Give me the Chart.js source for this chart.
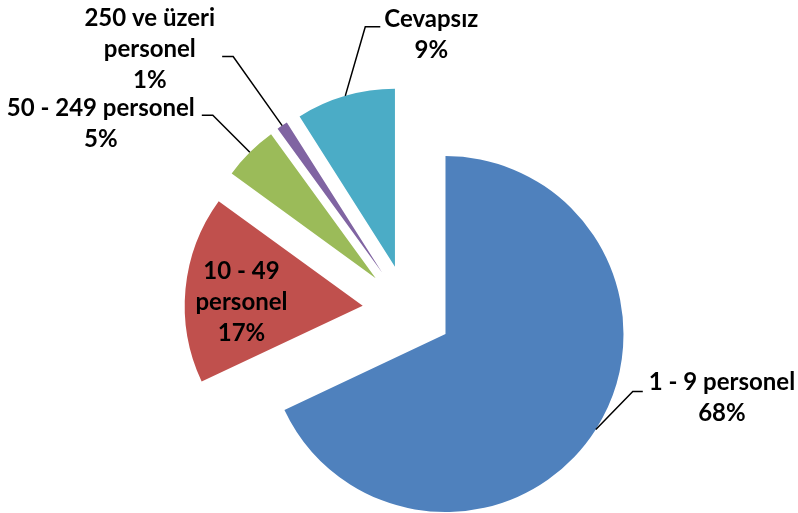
<!DOCTYPE html>
<html>
<head>
<meta charset="utf-8">
<script src="https://cdn.jsdelivr.net/npm/chart.js@4/dist/chart.umd.min.js"></script>
<style>
  html, body { margin: 0; padding: 0; background: #ffffff; }
  #wrap { width: 798px; height: 513px; }
</style>
</head>
<body>
<div id="wrap"><canvas id="c" width="798" height="513"></canvas></div>
<script>
// ---- data ----
const categories = [
  ['1 - 9 personel'],
  ['10 - 49', 'personel'],
  ['50 - 249 personel'],
  ['250 ve üzeri', 'personel'],
  ['Cevapsız']
];
const values = [68, 17, 5, 1, 9];
const percentLabels = ['68%', '17%', '5%', '1%', '9%'];
const colors = ['#4F81BD', '#C0504D', '#9BBB59', '#8064A2', '#4BACC6'];

// ---- label layout (relative to each slice's outer mid-point) ----
const labelLayout = [
  { type: 'leader', ex: 37, ey: -38, h: 10, gap: 6, tdy: 6 },
  { type: 'inside', dx: 56, dy: 13 },
  { type: 'leader', ex: -37, ey: -37, h: 11, gap: 7, tdy: 8 },
  { type: 'leader', ex: -49, ey: -69, h: 11, gap: 7, tdy: -7 },
  { type: 'leader', ex: 20, ey: -69, h: 15, gap: 4, tdy: 8 }
];

const EXPLODE = 45;     // px each slice is pulled out from the centre
const FONT = 'bold 24px Lato';
const LINE_H = 31;

function midAngle(arc) {
  return (arc.startAngle + arc.endAngle) / 2;
}

// Draw every arc element translated outward along its mid angle (exploded pie)
const explodePlugin = {
  id: 'explode',
  beforeDatasetDraw(chart, args) {
    const ctx = chart.ctx;
    args.meta.data.forEach(arc => {
      const m = midAngle(arc);
      ctx.save();
      ctx.translate(Math.cos(m) * EXPLODE, Math.sin(m) * EXPLODE);
      arc.draw(ctx, chart.chartArea);
      ctx.restore();
    });
    return false;
  }
};

const labelPlugin = {
  id: 'pieLabels',
  afterDatasetsDraw(chart) {
    const ctx = chart.ctx;
    const meta = chart.getDatasetMeta(0);
    ctx.save();
    ctx.font = FONT;
    ctx.fillStyle = '#000';
    ctx.strokeStyle = '#000';
    ctx.lineWidth = 1.5;
    ctx.textAlign = 'center';
    ctx.textBaseline = 'middle';
    meta.data.forEach((arc, i) => {
      const m = midAngle(arc);
      const r = EXPLODE + arc.outerRadius;
      const ax = arc.x + Math.cos(m) * r;
      const ay = arc.y + Math.sin(m) * r;
      const lines = categories[i].concat([percentLabels[i]]);
      const L = labelLayout[i];
      let cx, cy;
      if (L.type === 'inside') {
        cx = ax + L.dx; cy = ay + L.dy;
      } else {
        const exX = ax + L.ex, exY = ay + L.ey;
        const dir = L.ex >= 0 ? 1 : -1;
        const endX = exX + dir * L.h;
        ctx.beginPath();
        ctx.moveTo(ax, ay);
        ctx.lineTo(exX, exY);
        ctx.lineTo(endX, exY);
        ctx.stroke();
        const w = Math.max(...lines.map(t => ctx.measureText(t).width));
        cx = endX + dir * (L.gap + w / 2);
        cy = exY + L.tdy;
      }
      const top = cy - (lines.length - 1) * LINE_H / 2;
      lines.forEach((t, k) => ctx.fillText(t, cx, top + k * LINE_H));
    });
    ctx.restore();
  }
};

new Chart(document.getElementById('c'), {
  type: 'pie',
  data: {
    labels: categories.map(c => c.join(' ')),
    datasets: [{
      data: values,
      backgroundColor: colors,
      borderWidth: 0,
      hoverOffset: 0
    }]
  },
  options: {
    responsive: false,
    animation: false,
    radius: 178,
    layout: { padding: { left: 17, right: 0, top: 107, bottom: 0 } },
    plugins: {
      legend: { display: false },
      tooltip: { enabled: false }
    },
    events: []
  },
  plugins: [explodePlugin, labelPlugin]
});
</script>
</body>
</html>
